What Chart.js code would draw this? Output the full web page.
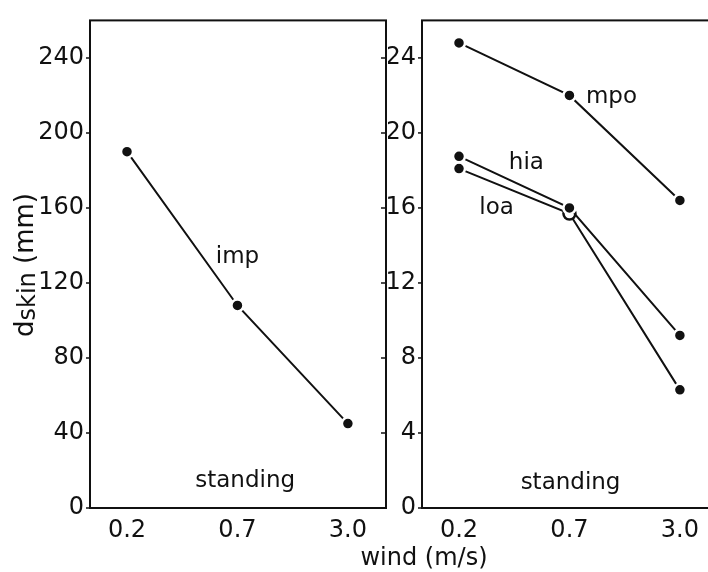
<!DOCTYPE html>
<html>
<head>
<meta charset="utf-8">
<script src="https://cdn.jsdelivr.net/npm/chart.js@4"></script>
<style>
  html, body { margin: 0; padding: 0; background: #fff; overflow: hidden; }
  #wrap { position: relative; width: 708px; height: 572px; overflow: hidden; }
  #leftBox  { position: absolute; left: 0;     top: 0; width: 400px; height: 572px; }
  #rightBox { position: absolute; left: 388px; top: 0; width: 352px; height: 572px; }
  #xTitle {
    position: absolute; left: 324px; width: 200px; top: 541px; height: 32px;
    text-align: center; font: 24px "DejaVu Sans"; line-height: 32px; color: #111;
  }
</style>
</head>
<body>
<div id="wrap">
  <div id="leftBox"><canvas id="leftChart"></canvas></div>
  <div id="rightBox"><canvas id="rightChart"></canvas></div>
  <div id="xTitle">wind (m/s)</div>
</div>
<script>
// wind speed categories (m/s)
const windLabels = ['0.2', '0.7', '3.0'];

// left panel: imp
const impValues = [190, 108, 45];
const leftTicks = [0, 40, 80, 120, 160, 200, 240];

// right panel
const mpoValues = [24.8, 22.0, 16.4];
const hiaValues = [18.75, 16.0, 9.2];
const loaValues = [18.1, 15.7, 6.3];
const rightTicks = [0, 4, 8, 12, 16, 20, 24];

const FONT = 'DejaVu Sans';
const INK = '#111';

const toPoints = vals => vals.map((v, i) => ({ x: i, y: v }));

function lineSet(label, vals, fills) {
  return {
    label,
    data: toPoints(vals),
    borderColor: INK,
    borderWidth: 2,
    pointRadius: 6,
    pointBorderWidth: 2.5,
    pointBackgroundColor: fills || INK,
    pointBorderColor: fills ? fills.map(f => f === '#fff' ? INK : '#fff') : '#fff',
    tension: 0
  };
}

// frame + tick marks + text labels placed in data coordinates
const panelDecor = {
  id: 'panelDecor',
  afterDraw(chart, args, opts) {
    const { ctx, chartArea: a, scales } = chart;
    ctx.save();
    ctx.strokeStyle = INK;
    ctx.lineWidth = 2;
    ctx.strokeRect(a.left, a.top, a.right - a.left, a.bottom - a.top);
    ctx.lineWidth = 1.5;
    opts.ticks.forEach(t => {
      const y = scales.y.getPixelForValue(t);
      ctx.beginPath();
      ctx.moveTo(a.left - 4, y); ctx.lineTo(a.left, y);
      if (opts.rightTicks) { ctx.moveTo(a.right - 5, y); ctx.lineTo(a.right, y); }
      ctx.stroke();
    });
    ctx.fillStyle = INK;
    ctx.font = `23px "${FONT}"`;
    ctx.textAlign = 'center';
    ctx.textBaseline = 'middle';
    opts.notes.forEach(n => {
      ctx.fillText(n.text, scales.x.getPixelForValue(n.x), scales.y.getPixelForValue(n.y));
    });
    if (opts.yTitle) {
      ctx.translate(33, 265);
      ctx.rotate(-Math.PI / 2);
      ctx.textAlign = 'left';
      ctx.textBaseline = 'alphabetic';
      const parts = [['d', 26, 0], ['skin', 24, 2], [' (mm)', 26, 0]];
      let total = 0;
      parts.forEach(p => { ctx.font = `${p[1]}px "${FONT}"`; total += ctx.measureText(p[0]).width; });
      let xx = -total / 2;
      parts.forEach(p => {
        ctx.font = `${p[1]}px "${FONT}"`;
        ctx.fillText(p[0], xx, p[2]);
        xx += ctx.measureText(p[0]).width;
      });
    }
    ctx.restore();
  }
};

function makeChart(id, datasets, yMax, ticks, yWidth, yPad, padRight, decor) {
  return new Chart(document.getElementById(id), {
    type: 'line',
    data: { datasets },
    options: {
      responsive: true,
      maintainAspectRatio: false,
      animation: false,
      layout: { padding: { top: 9, right: padRight, left: 0, bottom: 0 } },
      plugins: { legend: { display: false }, tooltip: { enabled: false }, panelDecor: decor },
      scales: {
        x: {
          type: 'linear',
          min: -0.335, max: 2.345,
          afterBuildTicks: s => { s.ticks = windLabels.map((_, i) => ({ value: i })); },
          afterFit: s => { s.height = 64; },
          grid: { display: false, drawTicks: false },
          border: { display: false },
          ticks: {
            padding: 8,
            color: INK,
            font: { family: FONT, size: 24 },
            callback: v => windLabels[v]
          }
        },
        y: {
          min: 0, max: yMax,
          afterBuildTicks: s => { s.ticks = ticks.map(v => ({ value: v })); },
          afterFit: s => { s.width = yWidth; },
          grid: { display: false, drawTicks: false },
          border: { display: false },
          ticks: {
            padding: yPad,
            color: INK,
            font: { family: FONT, size: 24 }
          }
        }
      }
    },
    plugins: [panelDecor]
  });
}

makeChart('leftChart', [lineSet('imp', impValues)], 260, leftTicks, 90, 6, 14, {
  ticks: leftTicks,
  rightTicks: true,
  yTitle: true,
  notes: [
    { text: 'imp', x: 1.0, y: 134 },
    { text: 'standing', x: 1.07, y: 14.6 }
  ]
});

makeChart('rightChart', [
  lineSet('mpo', mpoValues),
  lineSet('hia', hiaValues),
  lineSet('loa', loaValues, [INK, '#fff', INK])
], 26, rightTicks, 34, 6, 22, {
  ticks: rightTicks,
  rightTicks: false,
  notes: [
    { text: 'mpo', x: 1.38, y: 21.9 },
    { text: 'hia', x: 0.61, y: 18.4 },
    { text: 'loa', x: 0.34, y: 16.0 },
    { text: 'standing', x: 1.01, y: 1.35 }
  ]
});
</script>
</body>
</html>
